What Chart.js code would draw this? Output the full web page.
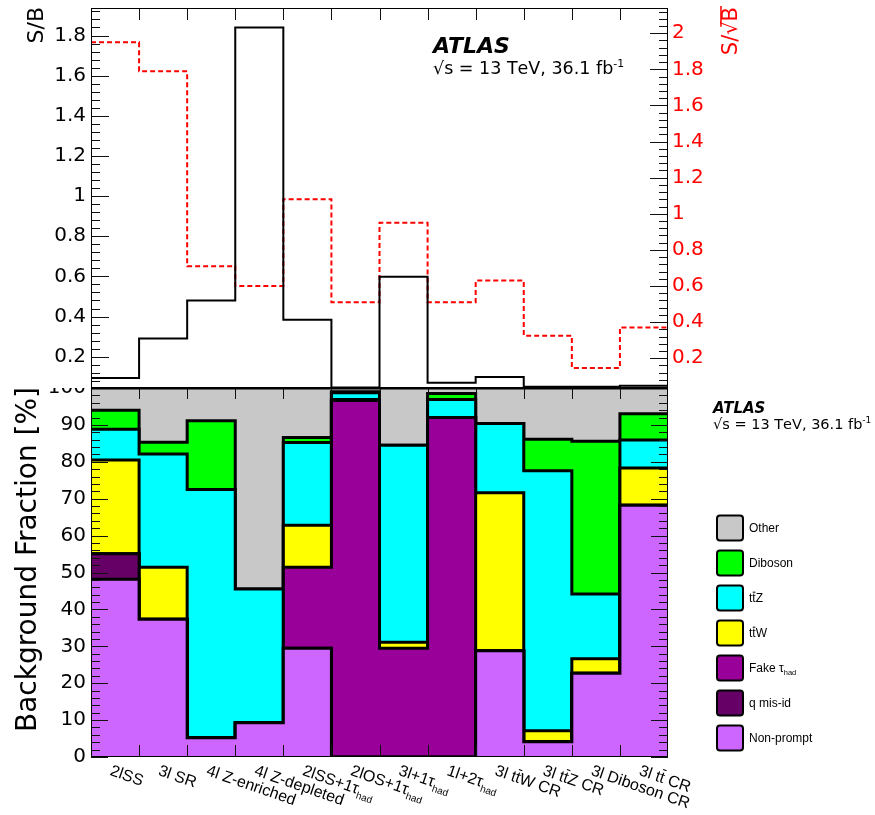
<!DOCTYPE html>
<html><head><meta charset="utf-8">
<script src="https://cdn.jsdelivr.net/npm/chart.js@4/dist/chart.umd.min.js"></script>
<style>
html,body{margin:0;padding:0;background:#fff;width:875px;height:815px;overflow:hidden;}
#top{position:absolute;left:0;top:0;z-index:2;}
#bot{position:absolute;left:0;top:370px;z-index:1;}
</style></head><body>
<canvas id="top" width="875" height="388"></canvas>
<canvas id="bot" width="875" height="445"></canvas>
<script>
// ---------------- DATA ----------------
const categories = ['2lSS', '3l SR', '4l Z-enriched', '4l Z-depleted', '2lSS+1τ_{had}', '2lOS+1τ_{had}',
  '3l+1τ_{had}', '1l+2τ_{had}', '3l tt\u0304W CR', '3l tt\u0304Z CR', '3l Diboson CR', '3l tt\u0304 CR'];
const sOverB     = [0.094, 0.29, 0.48, 1.84, 0.384, 0.046, 0.598, 0.070, 0.099, 0.050, 0.050, 0.055];
const sOverSqrtB = [1.95, 1.79, 0.71, 0.60, 1.08, 0.51, 0.95, 0.51, 0.63, 0.325, 0.146, 0.37];

const seriesNames = ['Non-prompt', 'q mis-id', 'Fake τ_{had}', 'tt\u0304W', 'tt\u0304Z', 'Diboson', 'Other'];
const nonPrompt = [48.2, 37.3, 5.2, 9.3, 29.5, 0, 0, 0, 28.8, 4.1, 22.7, 68.2];
const qMisId    = [6.9, 0, 0, 0, 0, 0, 0, 0, 0, 0, 0, 0];
const fakeTau   = [0, 0, 0, 0, 21.9, 96.6, 29.5, 92.0, 0, 0, 0, 0];
const ttW       = [25.4, 14.1, 0, 0, 11.4, 0.3, 1.6, 0, 42.8, 3.0, 3.9, 10.1];
const ttZ       = [8.3, 30.7, 67.3, 36.2, 22.4, 1.8, 53.4, 4.9, 18.8, 70.5, 17.6, 7.6];
const diboson   = [5.2, 3.2, 18.6, 0, 1.4, 0.3, 0, 1.6, 0, 8.5, 41.4, 7.1];
const other     = [6.0, 14.7, 8.9, 54.5, 13.4, 1.0, 15.5, 1.5, 9.6, 13.9, 14.4, 7.0];
const seriesValues = [nonPrompt, qMisId, fakeTau, ttW, ttZ, diboson, other];

const leftTopTicksStep = 0.2, rightTopTicksStep = 0.2, bottomTicksStep = 10;

// ---------------- STYLE ----------------
const seriesColors = ['#cc66ff', '#660066', '#990099', '#ffff00', '#00ffff', '#00ff00', '#c8c8c8'];
const FNUM = 'DejaVu Sans';
const FLBL = 'Liberation Sans';

// bin-edge points for a step histogram (value i holds over bin [i, i+1])
const edgeData = vals => vals.map((v, i) => ({x: i, y: v})).concat([{x: vals.length, y: vals[vals.length - 1]}]);
const fmt = v => String(Math.round(v * 100) / 100);

// ---------------- rich text helpers ----------------
function richTokens(s) {
  const out = [];
  let i = 0;
  while (i < s.length) {
    const c = s[i];
    if ((c === '_' || c === '^') && s[i + 1] === '{') {
      const j = s.indexOf('}', i);
      out.push({t: s.slice(i + 2, j), mode: c === '_' ? 'sub' : 'sup'});
      i = j + 1;
    } else if (c === '\u0304') {
      if (out.length) out[out.length - 1].bar = true;
      i++;
    } else {
      out.push({t: c, mode: 'n'});
      i++;
    }
  }
  return out;
}
function drawRich(ctx, s, x, y, size, family, style, measureOnly) {
  let cx = x;
  for (const tk of richTokens(s)) {
    const sz = tk.mode === 'n' ? size : size * 0.62;
    const dy = tk.mode === 'sub' ? size * 0.28 : tk.mode === 'sup' ? -size * 0.42 : 0;
    ctx.font = (style ? style + ' ' : '') + sz + 'px "' + family + '"';
    const w = ctx.measureText(tk.t).width;
    if (!measureOnly) {
      ctx.fillText(tk.t, cx, y + dy);
      if (tk.bar) ctx.fillRect(cx + w * 0.12, y + dy - sz * 0.86, w * 0.8, Math.max(1, sz * 0.07));
    }
    cx += w;
  }
  return cx - x;
}

// ---------------- plugins ----------------
const bgPlugin = {
  id: 'whiteBg',
  beforeDraw(c) { const x = c.ctx; x.save(); x.fillStyle = '#fff'; x.fillRect(0, 0, c.width, c.height); x.restore(); }
};

const framePlugin = {
  id: 'rootFrame',
  afterDatasetsDraw(chart, args, opts) {
    const {ctx, chartArea: a} = chart;
    const xs = chart.scales.x;
    ctx.save();
    ctx.strokeStyle = '#111';
    ctx.lineWidth = 1;
    ctx.beginPath();
    for (const t of opts.yTicks) {
      const sc = chart.scales[t.id];
      const x0 = t.side === 'left' ? a.left : a.right;
      const dir = t.side === 'left' ? 1 : -1;
      const k0 = Math.ceil(sc.min / t.minor - 1e-6), k1 = Math.floor(sc.max / t.minor + 1e-6);
      for (let k = k0; k <= k1; k++) {
        const v = k * t.minor;
        const r = v / t.major;
        const major = Math.abs(r - Math.round(r)) < 1e-6;
        const len = major ? t.majorLen : t.minorLen;
        const y = Math.round(sc.getPixelForValue(v)) + 0.5;
        ctx.moveTo(x0, y); ctx.lineTo(x0 + dir * len, y);
      }
    }
    for (let k = 1; k < categories.length; k++) {
      const px = Math.round(xs.getPixelForValue(k)) + 0.5;
      if (opts.xTop) { ctx.moveTo(px, a.top); ctx.lineTo(px, a.top + opts.xTop); }
      if (opts.xBottom) { ctx.moveTo(px, a.bottom); ctx.lineTo(px, a.bottom - opts.xBottom); }
    }
    ctx.stroke();
    ctx.strokeStyle = '#000';
    ctx.strokeRect(a.left + 0.5, a.top + 0.5, a.right - a.left - 1, a.bottom - a.top - 1);
    ctx.restore();
  }
};

const topText = {
  id: 'topText',
  afterDraw(chart) {
    const ctx = chart.ctx;
    ctx.save();
    ctx.fillStyle = '#000';
    ctx.textBaseline = 'alphabetic';
    ctx.textAlign = 'left';
    ctx.font = 'italic bold 22px "' + FNUM + '"';
    ctx.fillText('ATLAS', 433, 53);
    drawRich(ctx, '√s = 13 TeV, 36.1 fb^{-1}', 433, 74, 17.5, FNUM, '');
    // S/B title
    ctx.save();
    ctx.translate(43, 7); ctx.rotate(-Math.PI / 2);
    ctx.textAlign = 'right';
    ctx.font = '22px "' + FNUM + '"';
    ctx.fillText('S/B', 0, 0);
    ctx.restore();
    // S/sqrt(B) title
    ctx.save();
    ctx.fillStyle = '#ff0000';
    ctx.translate(737, 7); ctx.rotate(-Math.PI / 2);
    ctx.font = '21px "' + FNUM + '"';
    const w1 = ctx.measureText('S/').width, w2 = ctx.measureText('√').width, w3 = ctx.measureText('B').width;
    const x0 = -(w1 + w2 + w3);
    ctx.fillText('S/', x0, 0);
    ctx.fillText('√', x0 + w1, 0);
    ctx.fillText('B', x0 + w1 + w2, 0);
    ctx.fillRect(x0 + w1 + w2 * 0.6, -21 * 0.80, w2 * 0.4 + w3 + 1, 1.5);
    ctx.restore();
    ctx.restore();
  }
};

const botText = {
  id: 'botText',
  afterDraw(chart) {
    const ctx = chart.ctx;
    const xs = chart.scales.x;
    const off = 370;
    ctx.save();
    ctx.fillStyle = '#000';
    ctx.textBaseline = 'alphabetic';
    ctx.textAlign = 'left';
    // y title
    ctx.save();
    ctx.translate(36, 387 - off); ctx.rotate(-Math.PI / 2);
    ctx.textAlign = 'right';
    ctx.font = '28px "' + FNUM + '"';
    ctx.fillText('Background Fraction [%]', 0, 0);
    ctx.restore();
    // category labels (rotated)
    categories.forEach((lab, i) => {
      const cx = xs.getPixelForValue(i + 0.5);
      ctx.save();
      ctx.translate(cx - 2, 764 - off);
      ctx.rotate(19 * Math.PI / 180);
      drawRich(ctx, lab, 0, 11.5, 16, FLBL, '');
      ctx.restore();
    });
    // ATLAS label
    ctx.font = 'italic bold 15px "' + FNUM + '"';
    ctx.fillText('ATLAS', 713, 413 - off);
    drawRich(ctx, '√s = 13 TeV, 36.1 fb^{-1}', 713, 429 - off, 14.5, FNUM, '');
    // legend
    const ds = chart.data.datasets.slice().reverse();
    ds.forEach((d, k) => {
      const cy = 528 + 35 * k - off;
      ctx.beginPath();
      if (ctx.roundRect) ctx.roundRect(717, cy - 12.5, 26, 25, 3); else ctx.rect(717, cy - 12.5, 26, 25);
      ctx.fillStyle = d.backgroundColor;
      ctx.fill();
      ctx.lineWidth = 2;
      ctx.strokeStyle = '#000';
      ctx.stroke();
      ctx.fillStyle = '#000';
      drawRich(ctx, d.label, 749, cy + 4, 12, FLBL, '');
    });
    ctx.restore();
  }
};

// ---------------- TOP PANEL ----------------
new Chart(document.getElementById('top'), {
  type: 'line',
  data: {
    datasets: [
      {label: 'S/B', data: edgeData(sOverB), yAxisID: 'y', borderColor: '#000', borderWidth: 2,
       stepped: true, pointRadius: 0, fill: false},
      {label: 'S/√B', data: edgeData(sOverSqrtB), yAxisID: 'y2', borderColor: '#ff0000', borderWidth: 2,
       borderDash: [5, 3], stepped: true, pointRadius: 0, fill: false}
    ]
  },
  options: {
    responsive: false, animation: false, devicePixelRatio: 1,
    layout: {padding: {top: 8, bottom: 0, left: 0, right: 0}},
    plugins: {
      legend: {display: false}, tooltip: {enabled: false},
      rootFrame: {
        yTicks: [
          {id: 'y', side: 'left', major: leftTopTicksStep, minor: 0.04, majorLen: 18, minorLen: 9},
          {id: 'y2', side: 'right', major: rightTopTicksStep, minor: 0.04, majorLen: 18, minorLen: 9}
        ],
        xTop: 12, xBottom: 0
      }
    },
    scales: {
      x: {type: 'linear', min: 0, max: categories.length, display: false},
      y: {position: 'left', min: 0.044, max: 1.937,
          grid: {display: false, drawTicks: false}, border: {display: false},
          ticks: {stepSize: leftTopTicksStep, includeBounds: false, padding: 5, color: '#000',
                  font: {family: FNUM, size: 20}, callback: v => fmt(v)},
          afterFit: s => { s.width = 91; s.paddingTop = 0; s.paddingBottom = 0; }},
      y2: {position: 'right', min: 0.035, max: 2.14,
          grid: {display: false, drawTicks: false}, border: {display: false},
          ticks: {stepSize: rightTopTicksStep, includeBounds: false, padding: 4, color: '#ff0000',
                  font: {family: FNUM, size: 20}, callback: v => fmt(v)},
          afterFit: s => { s.width = 207; s.paddingTop = 0; s.paddingBottom = 0; }}
    }
  },
  plugins: [bgPlugin, framePlugin, topText]
});

// ---------------- BOTTOM PANEL ----------------
new Chart(document.getElementById('bot'), {
  type: 'line',
  data: {
    datasets: seriesValues.map((vals, k) => ({
      label: seriesNames[k], data: edgeData(vals),
      backgroundColor: seriesColors[k], borderColor: '#000', borderWidth: 3,
      stepped: true, pointRadius: 0, fill: k === 0 ? 'origin' : '-1'
    }))
  },
  options: {
    responsive: false, animation: false, devicePixelRatio: 1,
    layout: {padding: {top: 18, bottom: 58, left: 0, right: 207}},
    plugins: {
      legend: {display: false}, tooltip: {enabled: false},
      rootFrame: {
        yTicks: [
          {id: 'y', side: 'left', major: bottomTicksStep, minor: 2, majorLen: 17, minorLen: 9},
          {id: 'y', side: 'right', major: bottomTicksStep, minor: 2, majorLen: 17, minorLen: 9}
        ],
        xTop: 11, xBottom: 12
      }
    },
    scales: {
      x: {type: 'linear', min: 0, max: categories.length, display: false},
      y: {position: 'left', stacked: true, min: 0, max: 100,
          grid: {display: false, drawTicks: false}, border: {display: false},
          ticks: {stepSize: bottomTicksStep, padding: 5, color: '#000',
                  font: {family: FNUM, size: 20}, callback: v => fmt(v)},
          afterFit: s => { s.width = 91; s.paddingTop = 0; s.paddingBottom = 0; }}
    }
  },
  plugins: [framePlugin, botText]
});
</script>
</body></html>
